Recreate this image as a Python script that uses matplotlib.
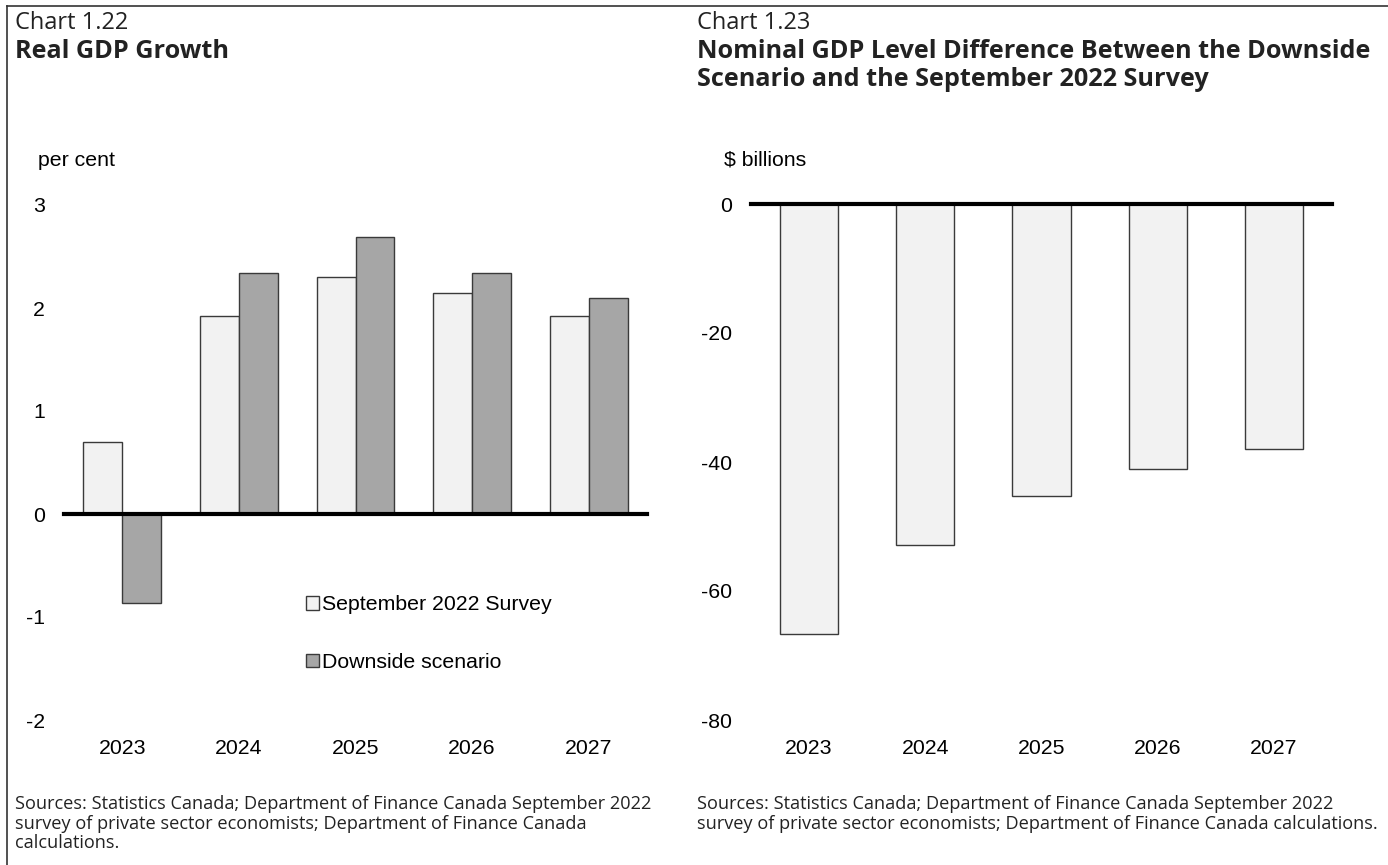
import matplotlib
matplotlib.use("Agg")
import matplotlib.pyplot as plt
from matplotlib.lines import Line2D
import numpy as np

# ---- data ----
years = ["2023", "2024", "2025", "2026", "2027"]
sept_survey = [0.70, 1.92, 2.30, 2.15, 1.92]
downside = [-0.86, 2.34, 2.69, 2.34, 2.10]
level_diff = [-66.6, -52.8, -45.3, -41.1, -38.0]

growth_ticks = [-2, -1, 0, 1, 2, 3]
level_ticks = [-80, -60, -40, -20, 0]

# ---- style ----
LIGHT = "#f2f2f2"
DARK = "#a6a6a6"
EDGE = "#3a3a3a"
TEXT = "#222222"
TICK_FONT = "Liberation Sans"
TITLE_FONT = "Open Sans"
TICK_SIZE = 15.3
TITLE_SIZE = 18.2
LABEL_SIZE = 17.0
SRC_SIZE = 13.1

W, H = 1388, 865
fig = plt.figure(figsize=(W / 100, H / 100), dpi=100)


def px_axes(x0, y0, x1, y1):
    return fig.add_axes([x0 / W, 1 - y1 / H, (x1 - x0) / W, (y1 - y0) / H])


def style_axes(ax):
    for s in ax.spines.values():
        s.set_visible(False)
    ax.tick_params(length=0, labelsize=TICK_SIZE)
    ax.tick_params(axis="y", pad=13.5)
    ax.tick_params(axis="x", pad=13.5)
    for lab in ax.get_xticklabels() + ax.get_yticklabels():
        lab.set_fontfamily(TICK_FONT)
    ax.set_facecolor("none")


x = np.arange(len(years))

# ---- left: real GDP growth ----
ax1 = px_axes(64, 205, 647, 720)
bw = 0.333
b1 = ax1.bar(x - bw / 2, sept_survey, bw, color=LIGHT, edgecolor=EDGE, linewidth=1.0,
             label="September 2022 Survey", zorder=2)
b2 = ax1.bar(x + bw / 2, downside, bw, color=DARK, edgecolor=EDGE, linewidth=1.0,
             label="Downside scenario", zorder=2)
ax1.axhline(0, color="black", lw=3, zorder=3, clip_on=False)
ax1.set_xlim(-0.5, 4.5)
ax1.set_ylim(-2, 3)
ax1.set_yticks(growth_ticks)
ax1.set_yticklabels([str(t) for t in growth_ticks])
ax1.set_xticks(x)
ax1.set_xticklabels(years)
style_axes(ax1)
ax1.legend(handles=[b1, b2], loc="upper left", bbox_to_anchor=(0.415, 0.242),
           frameon=False, handlelength=0.6, handleheight=0.6, handletextpad=0.15,
           labelspacing=1.82, borderpad=0, borderaxespad=0,
           prop={"family": TICK_FONT, "size": TICK_SIZE})
fig.text(38 / W, 1 - 160 / H, "per cent", family=TICK_FONT, size=TICK_SIZE,
         ha="left", va="center")

# ---- right: nominal GDP level difference ----
ax2 = px_axes(751, 204, 1332, 720)
ax2.bar(x, level_diff, 0.5, color=LIGHT, edgecolor=EDGE, linewidth=1.0, zorder=2)
ax2.axhline(0, color="black", lw=3, zorder=3, clip_on=False)
ax2.set_xlim(-0.5, 4.5)
ax2.set_ylim(-80, 0)
ax2.set_yticks(level_ticks)
ax2.set_yticklabels([str(t) for t in level_ticks])
ax2.set_xticks(x)
ax2.set_xticklabels(years)
style_axes(ax2)
fig.text(724 / W, 1 - 160 / H, "$ billions", family=TICK_FONT, size=TICK_SIZE,
         ha="left", va="center")

# ---- titles ----
fig.text(15 / W, 1 - 23 / H, "Chart 1.22", family=TITLE_FONT, size=LABEL_SIZE,
         ha="left", va="center", color=TEXT)
fig.text(15 / W, 1 - 51 / H, "Real GDP Growth", family=TITLE_FONT, size=TITLE_SIZE,
         weight="bold", ha="left", va="center", color=TEXT)
fig.text(697 / W, 1 - 23 / H, "Chart 1.23", family=TITLE_FONT, size=LABEL_SIZE,
         ha="left", va="center", color=TEXT)
fig.text(697 / W, 1 - 51 / H, "Nominal GDP Level Difference Between the Downside",
         family=TITLE_FONT, size=TITLE_SIZE, weight="bold", ha="left", va="center",
         color=TEXT)
fig.text(697 / W, 1 - 79 / H, "Scenario and the September 2022 Survey",
         family=TITLE_FONT, size=TITLE_SIZE, weight="bold", ha="left", va="center",
         color=TEXT)

# ---- sources ----
fig.text(15 / W, 1 - 795 / H,
         "Sources: Statistics Canada; Department of Finance Canada September 2022\n"
         "survey of private sector economists; Department of Finance Canada\n"
         "calculations.",
         family=TITLE_FONT, size=SRC_SIZE, ha="left", va="top", linespacing=1.12,
         color=TEXT)
fig.text(697 / W, 1 - 795 / H,
         "Sources: Statistics Canada; Department of Finance Canada September 2022\n"
         "survey of private sector economists; Department of Finance Canada calculations.",
         family=TITLE_FONT, size=SRC_SIZE, ha="left", va="top", linespacing=1.12,
         color=TEXT)

# ---- panel frame: top rule and left rule ----
fig.add_artist(Line2D([7 / W, 1], [1 - 6 / H, 1 - 6 / H], color="#333333", lw=1.2))
fig.add_artist(Line2D([7 / W, 7 / W], [0, 1 - 6 / H], color="#333333", lw=1.2))

fig.savefig("out.png", dpi=100)
